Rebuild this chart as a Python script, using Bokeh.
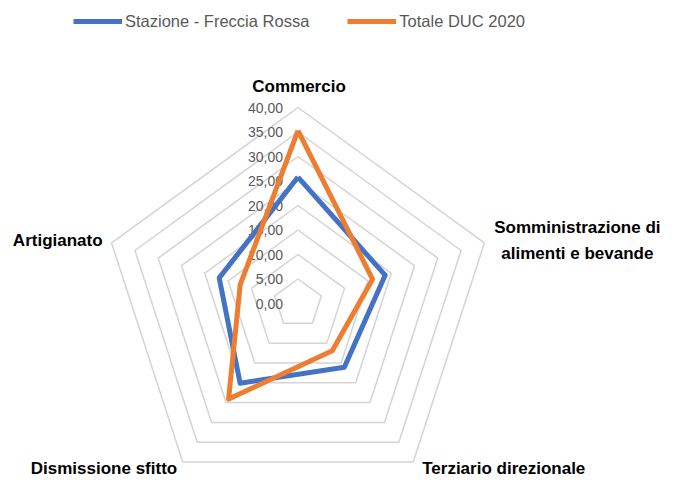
import math
from bokeh.plotting import figure
from bokeh.models import Range1d, Legend, LegendItem
from bokeh.core.properties import value
from bokeh.embed import file_html
from bokeh.resources import INLINE

# ---- data ----
categories = ["Commercio", "Somministrazione di\nalimenti e bevande",
              "Terziario direzionale", "Dismissione sfitto", "Artigianato"]
stazione = [25.8, 18.7, 16.1, 20.1, 16.9]
totale = [35.3, 16.0, 11.9, 24.1, 12.4]
series_names = ["Stazione - Freccia Rossa", "Totale DUC 2020"]
tick_values = [0, 5, 10, 15, 20, 25, 30, 35, 40]
tick_labels = ["0,00", "5,00", "10,00", "15,00", "20,00", "25,00", "30,00", "35,00", "40,00"]

BLUE = "#4472C4"
ORANGE = "#ED7D31"
GRID = "#d4d4d4"
FONT = "Liberation Sans"

n = len(categories)
angles = [math.pi / 2 - i * 2 * math.pi / n for i in range(n)]


def polar(vals):
    xs = [v * math.cos(a) for v, a in zip(vals, angles)]
    ys = [v * math.sin(a) for v, a in zip(vals, angles)]
    return xs + xs[:1], ys + ys[:1]


k = 4.9  # px per unit
cx, cy = 297.5, 303.0
W, H = 677, 480
p = figure(width=W, height=H, output_backend="svg", toolbar_location=None,
           min_border=0, x_axis_type=None, y_axis_type=None,
           x_range=Range1d(-cx / k, (W - cx) / k),
           y_range=Range1d(-(H - cy) / k, cy / k))
p.outline_line_color = None
p.grid.visible = False
p.background_fill_color = "white"
p.border_fill_color = "white"

# grid pentagons
gx, gy = [], []
for t in tick_values[1:]:
    xs, ys = polar([t] * n)
    gx.append(xs)
    gy.append(ys)
p.multi_line(gx, gy, line_color=GRID, line_width=1.5)

# radial tick labels
p.text(x=[0] * len(tick_values), y=tick_values, text=tick_labels,
       text_font=value(FONT), text_font_size="14px",
       text_color="#595959", text_align="right", text_baseline="middle",
       x_offset=-15)

# series
sx, sy = polar(stazione)
r1 = p.line(sx, sy, line_color=BLUE, line_width=5, line_join="round")
tx, ty = polar(totale)
r2 = p.line(tx, ty, line_color=ORANGE, line_width=5, line_join="round")

# category labels at outer vertices
vx, vy = polar([tick_values[-1]] * n)
lab_cfg = [  # (x_offset, y_offset, align)
    (1, -21, "center"),
    (93, -2.4, "center"),
    (9, 6.5, "left"),
    (-5.6, 6.5, "right"),
    (-9, -2, "right"),
]
for i, cat in enumerate(categories):
    xo, yo, al = lab_cfg[i]
    p.text(x=[vx[i]], y=[vy[i]], text=[cat], text_font=value(FONT),
           text_font_style="bold", text_font_size="17px", text_color="#000000",
           text_align=al, text_baseline="middle", x_offset=xo, y_offset=yo,
           text_line_height=1.4)

legend = Legend(items=[LegendItem(label=series_names[0], renderers=[r1]),
                       LegendItem(label=series_names[1], renderers=[r2])],
                orientation="horizontal", location=(73, 449),
                glyph_width=49, glyph_height=20, label_height=20,
                label_standoff=3, spacing=38, padding=0, margin=0,
                border_line_color=None, background_fill_alpha=0,
                label_text_font=FONT, label_text_font_size="16.5px",
                label_text_color="#595959", label_text_baseline="middle")
p.add_layout(legend)

open("out.html", "w").write(file_html(p, INLINE))
